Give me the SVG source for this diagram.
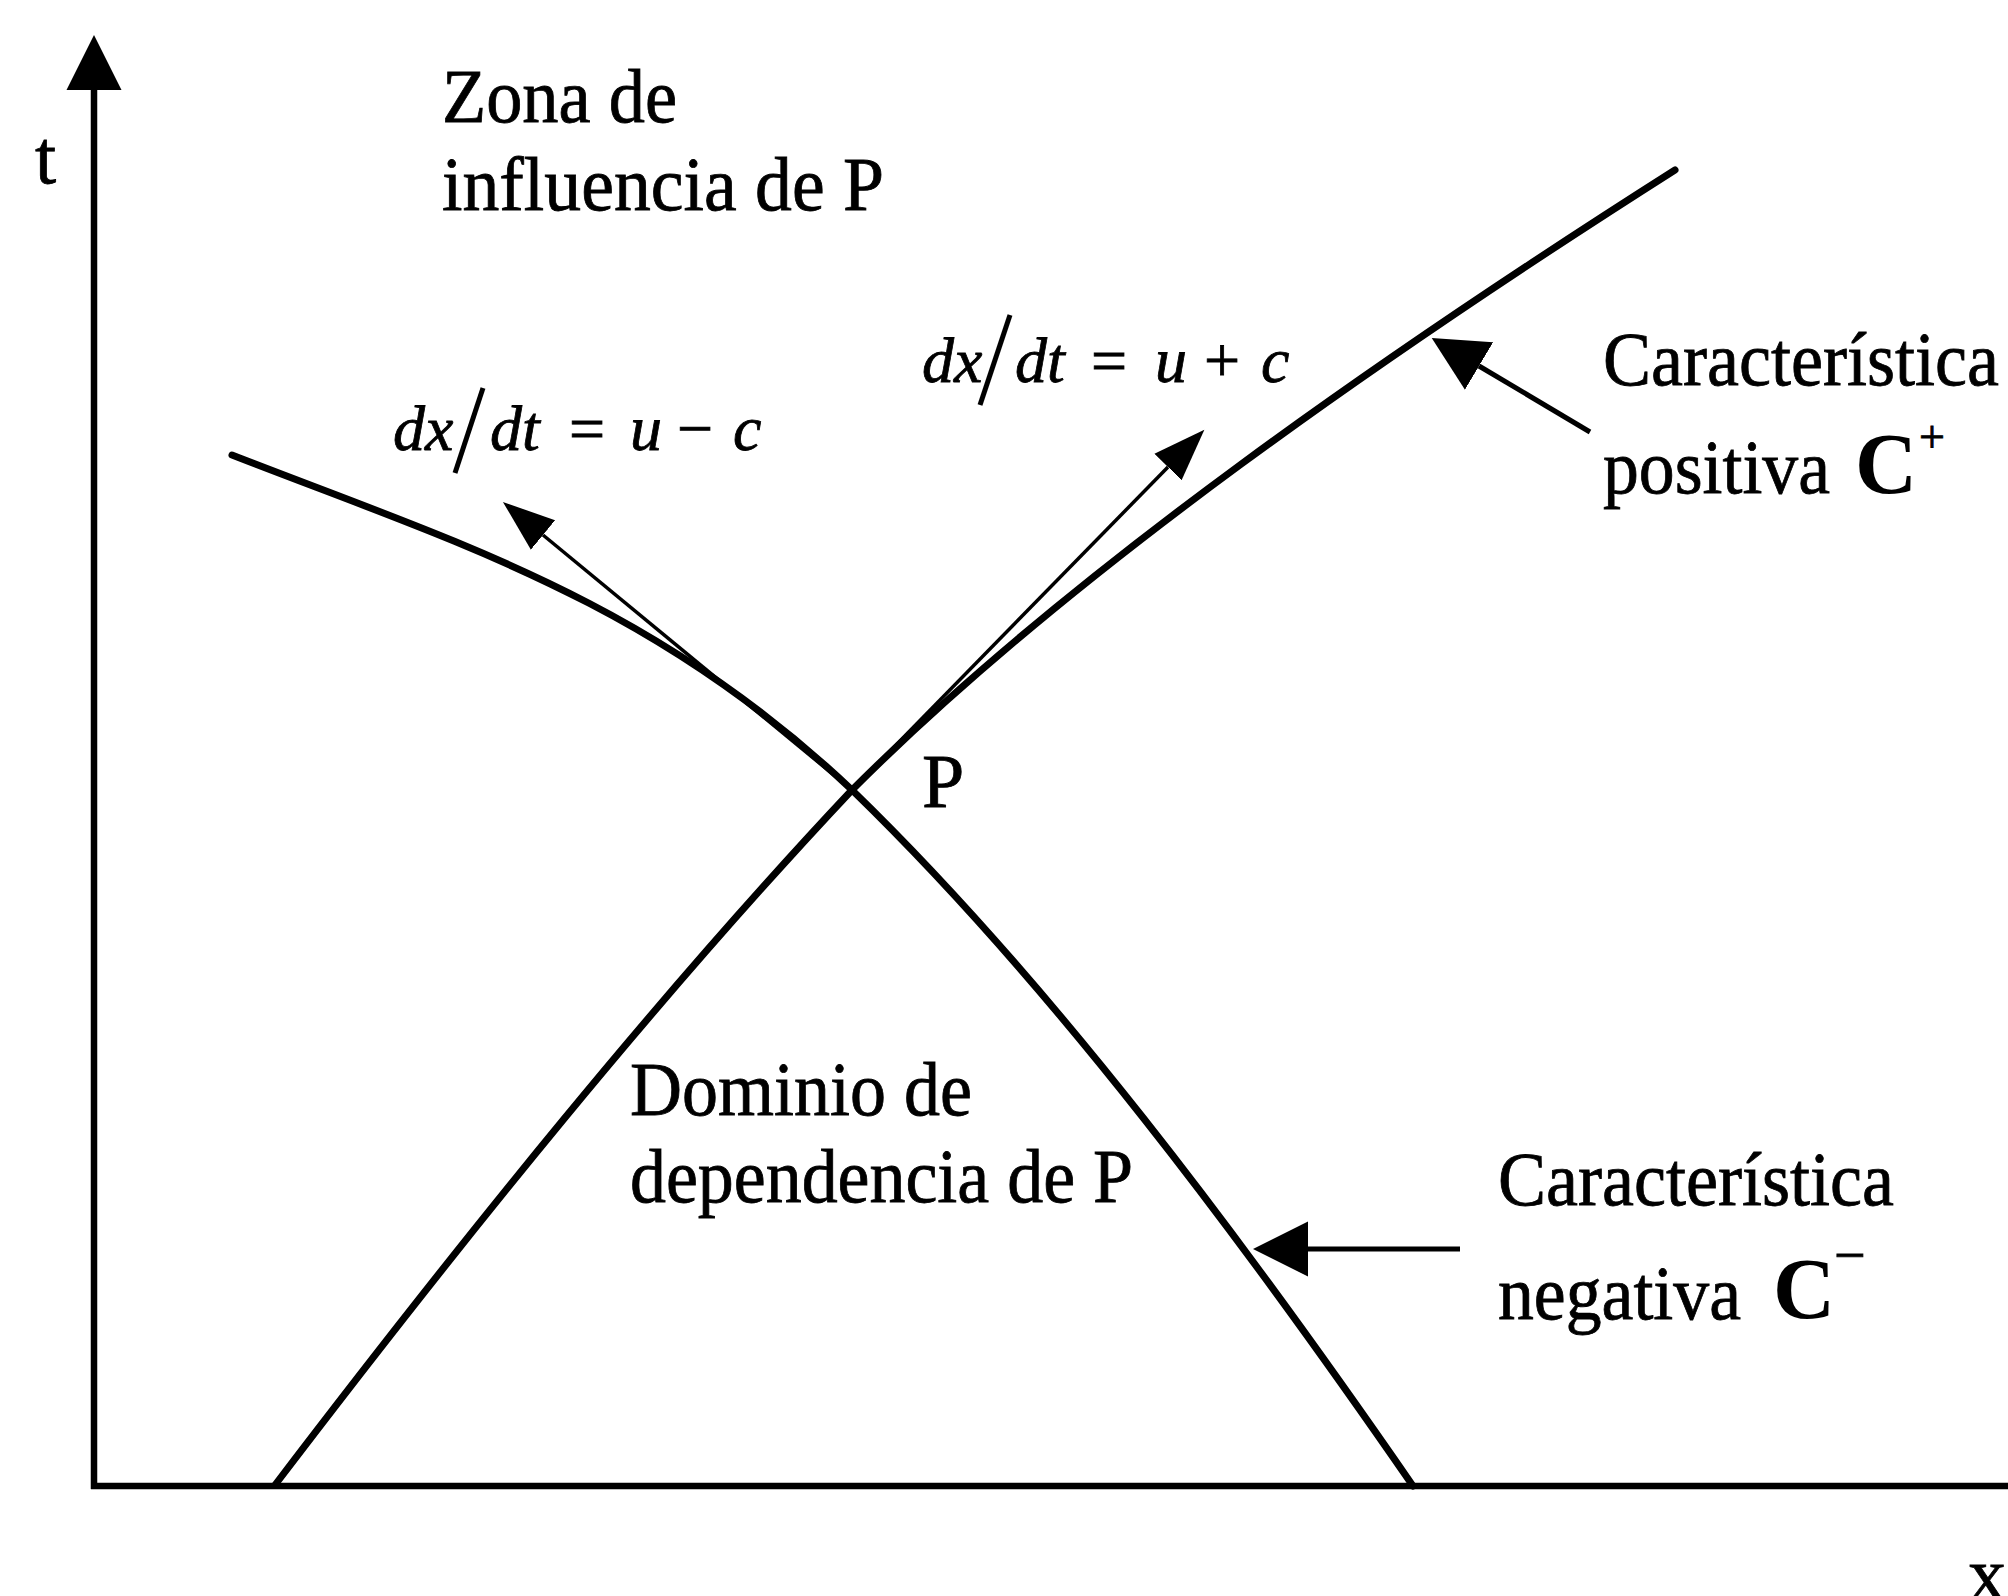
<svg xmlns="http://www.w3.org/2000/svg" width="2008" height="1596" viewBox="0 0 2008 1596">
<style>
.lbl{font-family:"Liberation Serif","Times New Roman",serif;font-size:76px;fill:#000;stroke:#000;stroke-width:0.8}
.math{font-family:"Liberation Serif","Times New Roman",serif;font-size:64px;font-style:italic;fill:#000;stroke:#000;stroke-width:0.8}
.op{font-family:"Liberation Serif","Times New Roman",serif;font-size:64px;fill:#000;stroke:#000;stroke-width:0.8}
.bold{font-family:"Liberation Serif","Times New Roman",serif;font-size:86px;font-weight:bold;fill:#000}
.curve{fill:none;stroke:#000;stroke-width:7;stroke-linecap:round}
.axis{fill:none;stroke:#000;stroke-width:6.5}
.lead{fill:none;stroke:#000;stroke-width:5}
.tan{fill:none;stroke:#000;stroke-width:3.5}
</style>
<defs>
<marker id="big" markerUnits="userSpaceOnUse" viewBox="0 -28 56 56" markerWidth="56" markerHeight="56" refX="0" refY="0" orient="auto">
<path d="M0,-27.5 L55,0 L0,27.5 Z" fill="#000"/>
</marker>
<marker id="small" markerUnits="userSpaceOnUse" viewBox="0 -20 53 40" markerWidth="53" markerHeight="40" refX="0" refY="0" orient="auto">
<path d="M0,-19 L52,0 L0,19 Z" fill="#000"/>
</marker>
</defs>
<rect width="2008" height="1596" fill="#fff"/>

<g id="axes">
<line class="axis" x1="94" y1="1489" x2="94" y2="90" marker-end="url(#big)"/>
<line class="axis" x1="91" y1="1486" x2="2008" y2="1486"/>
<text class="lbl" x="35" y="183">t</text>
<text class="lbl" x="1968" y="1600">x</text>
</g>

<g id="connectors">
<path id="c-plus" class="curve" d="M275,1485 C467,1233 660,994 852,790 C1072,570 1395,348 1675,170"/>
<path id="c-minus" class="curve" d="M232,455 C452,541 652,600 852,790 C1052,984 1243,1240 1413,1486"/>
<line class="tan" x1="852" y1="790" x2="1168" y2="467" marker-end="url(#small)"/>
<line class="tan" x1="852" y1="790" x2="543" y2="535" marker-end="url(#small)"/>
<line class="lead" x1="1590" y1="432" x2="1479" y2="366" marker-end="url(#big)"/>
<line class="lead" x1="1460" y1="1249" x2="1308" y2="1249" marker-end="url(#big)"/>
</g>

<g id="zona-influencia">
<text class="lbl" x="442" y="122" textLength="235" lengthAdjust="spacingAndGlyphs">Zona de</text>
<text class="lbl" x="442" y="210" textLength="442" lengthAdjust="spacingAndGlyphs">influencia de P</text>
</g>

<g id="punto-P">
<text class="lbl" x="922" y="807">P</text>
</g>

<g id="eq-plus">
<text class="math" x="922" y="382">dx</text>
<line x1="1010" y1="315" x2="980" y2="405" stroke="#000" stroke-width="5"/>
<text class="math" x="1015" y="382">dt</text>
<text class="op" x="1091" y="382">=</text>
<text class="math" x="1155" y="382">u</text>
<text class="op" x="1204" y="382">+</text>
<text class="math" x="1261" y="382">c</text>
</g>

<g id="eq-minus">
<text class="math" x="393" y="450">dx</text>
<line x1="483" y1="388" x2="455" y2="473" stroke="#000" stroke-width="5"/>
<text class="math" x="490" y="450">dt</text>
<text class="op" x="569" y="450">=</text>
<text class="math" x="630" y="450">u</text>
<text class="op" x="677" y="450">−</text>
<text class="math" x="733" y="450">c</text>
</g>

<g id="caract-positiva">
<text class="lbl" x="1603" y="385" textLength="396" lengthAdjust="spacingAndGlyphs">Característica</text>
<text class="lbl" x="1603" y="493" textLength="227" lengthAdjust="spacingAndGlyphs">positiva</text>
<text class="bold" x="1855" y="493">C</text>
<text class="op" x="1919" y="452" style="font-size:46px">+</text>
</g>

<g id="dominio">
<text class="lbl" x="630" y="1115" textLength="342" lengthAdjust="spacingAndGlyphs">Dominio de</text>
<text class="lbl" x="630" y="1202" textLength="503" lengthAdjust="spacingAndGlyphs">dependencia de P</text>
</g>

<g id="caract-negativa">
<text class="lbl" x="1498" y="1205" textLength="396" lengthAdjust="spacingAndGlyphs">Característica</text>
<text class="lbl" x="1498" y="1319" textLength="243" lengthAdjust="spacingAndGlyphs">negativa</text>
<text class="bold" x="1773" y="1318">C</text>
<text class="op" x="1834" y="1274" style="font-size:56px">−</text>
</g>
</svg>
